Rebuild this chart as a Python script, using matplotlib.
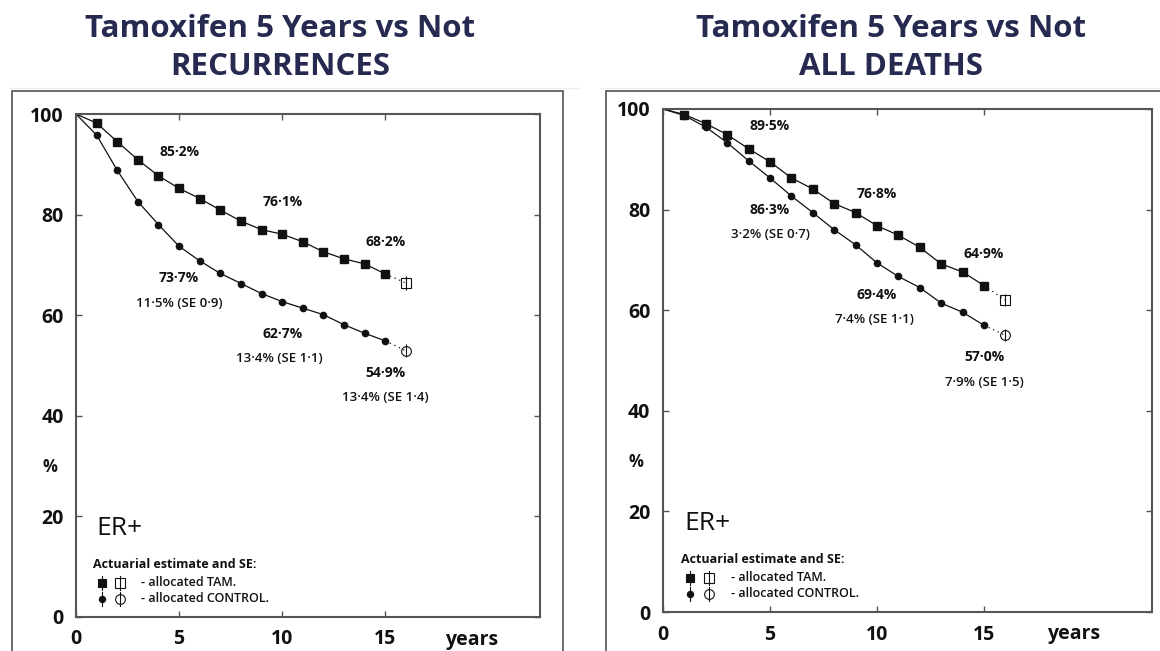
# -*- coding: utf-8 -*-
"""
ER+ 乳腺癌：他莫昔芬 5 年 vs 不用药
左：无复发比例，右：总生存比例（精算估计及标准误）
"""
import matplotlib
matplotlib.use('Agg')  # 使用非交互式后端
import matplotlib.pyplot as plt
from matplotlib.patches import Rectangle
from matplotlib.lines import Line2D

plt.rcParams['font.family'] = ['Open Sans', 'DejaVu Sans']

W, H = 1160, 651

# 年份（第 16 年为外推估计点）
years = list(range(0, 16))
est_year = 16
label_years = [5, 10, 15]
x_ticks = [0, 5, 10, 15]
y_ticks = [0, 20, 40, 60, 80, 100]

# 复发（RECURRENCES）
rec_tam = [100, 98.2, 94.5, 90.9, 87.7, 85.2, 83.2, 80.9, 78.7, 77.0, 76.1,
           74.6, 72.6, 71.2, 70.2, 68.2]
rec_ctl = [100, 95.8, 88.8, 82.6, 78.0, 73.7, 70.8, 68.3, 66.3, 64.3, 62.7,
           61.4, 60.1, 58.1, 56.4, 54.9]
rec_est = [66.4, 52.9]
rec_se = [1.3, 1.3]
rec_gain = ['11·5% (SE 0·9)', '13·4% (SE 1·1)', '13·4% (SE 1·4)']

# 全部死亡（ALL DEATHS）
dth_tam = [100, 98.9, 97.1, 94.9, 92.1, 89.5, 86.3, 84.1, 81.2, 79.4, 76.8,
           74.9, 72.5, 69.2, 67.6, 64.9]
dth_ctl = [100, 98.7, 96.4, 93.3, 89.7, 86.3, 82.7, 79.4, 76.0, 73.0, 69.4,
           66.7, 64.5, 61.4, 59.6, 57.0]
dth_est = [62.0, 55.0]
dth_se = [1.2, 1.2]
dth_gain = ['3·2% (SE 0·7)', '7·4% (SE 1·1)', '7·9% (SE 1·5)']

INK = '#111111'
SPINE = '#555555'
TITLE = '#262a50'


def px_rect(left, top, right, bottom):
    """像素坐标 -> figure 比例坐标 [x0, y0, w, h]"""
    return [left / W, (H - bottom) / H, (right - left) / W, (bottom - top) / H]


def pct(v):
    return f'{v:.1f}%'.replace('.', '·')


def draw_key(ax):
    """左下角的 ER+ 与图例说明"""
    ax.text(0.043, 0.175, 'ER+', transform=ax.transAxes, fontsize=19,
            va='center', ha='left', color=INK)
    ax.text(0.036, 0.104, 'Actuarial estimate and SE:', transform=ax.transAxes,
            fontsize=9, fontweight='bold', va='center', ha='left', color=INK)
    rows = [(0.068, 's', '- allocated TAM.', 5.5),
            (0.036, 'o', '- allocated CONTROL.', 4.5)]
    for y, marker, text, ms in rows:
        for x, face in [(0.055, INK), (0.095, 'none')]:
            ax.plot([x, x], [y - 0.014, y + 0.014], color=INK, lw=0.8,
                    transform=ax.transAxes, clip_on=False)
            ax.plot([x], [y], marker=marker, ms=ms if face == INK else 7,
                    mfc=face, mec=INK, mew=0.8,
                    transform=ax.transAxes, clip_on=False)
        ax.text(0.14, y, text, transform=ax.transAxes, fontsize=9,
                fontweight='semibold', va='center', ha='left', color=INK)


def draw_panel(rect, xmax, tam, ctl, est, se, gains, title_x, subtitle):
    ax = plt.gcf().add_axes(rect)

    # 实测曲线（第 0 年只有连线起点，不画标记）
    ax.plot(years, tam, '-', color=INK, lw=0.9)
    ax.plot(years, ctl, '-', color=INK, lw=0.9)
    ax.plot(years[1:], tam[1:], 's', color=INK, ms=5.5)
    ax.plot(years[1:], ctl[1:], 'o', color=INK, ms=4.5)

    # 外推估计点（点线连接 + 空心标记和标准误）
    ax.plot([years[-1], est_year], [tam[-1], est[0]], color=INK, lw=0.9,
            dashes=(1, 3))
    ax.plot([years[-1], est_year], [ctl[-1], est[1]], color=INK, lw=0.9,
            dashes=(1, 3))
    ax.errorbar(est_year, est[0], yerr=se[0], fmt='s', ms=7.5, mfc='none',
                mec=INK, mew=0.8, ecolor=INK, elinewidth=0.8, capsize=0)
    ax.errorbar(est_year, est[1], yerr=se[1], fmt='o', ms=7, mfc='none',
                mec=INK, mew=0.8, ecolor=INK, elinewidth=0.8, capsize=0)

    # 第 5、10、15 年的数值标注
    for i, yr in enumerate(label_years):
        up = 26 if i == 0 else 23
        ax.annotate(pct(tam[yr]), (yr, tam[yr]), xytext=(0, up),
                    textcoords='offset points', ha='center', va='center',
                    fontsize=10, fontweight='bold', color=INK)
        ax.annotate(pct(ctl[yr]), (yr, ctl[yr]), xytext=(0, -23),
                    textcoords='offset points', ha='center', va='center',
                    fontsize=10, fontweight='bold', color=INK)
        ax.annotate(gains[i], (yr, ctl[yr]), xytext=(-2 if i == 1 else 0, -41),
                    textcoords='offset points', ha='center', va='center',
                    fontsize=9.5, fontweight='semibold', color=INK)

    ax.set_xlim(0, xmax)
    ax.set_ylim(0, 100)
    ax.set_xticks(x_ticks)
    ax.set_yticks(y_ticks)
    ax.tick_params(axis='both', direction='in', length=4, width=1,
                   color=SPINE, top=True, right=True, labelsize=14)
    ax.tick_params(axis='x', pad=9)
    ax.tick_params(axis='y', pad=9)
    for lab in ax.get_xticklabels() + ax.get_yticklabels():
        lab.set_fontweight('bold')
        lab.set_color(INK)
    for sp in ax.spines.values():
        sp.set_color(SPINE)
        sp.set_linewidth(1.5)

    ax.annotate('years', (19.2, 0), xycoords=('data', 'axes fraction'),
                xytext=(0, -9), textcoords='offset points', ha='center',
                va='top', fontsize=14, fontweight='bold', color=INK)
    ax.text(-0.056, 0.298, '%', transform=ax.transAxes, ha='center',
            va='center', fontsize=12, fontweight='bold', color=INK)

    draw_key(ax)

    # 标题
    fig = plt.gcf()
    fig.text(title_x / W, 1 - 29 / H, 'Tamoxifen 5 Years vs Not', ha='center',
             va='center', fontsize=22.5, fontweight='bold', color=TITLE)
    fig.text(title_x / W, 1 - 67 / H, subtitle, ha='center', va='center',
             fontsize=22.5, fontweight='bold', color=TITLE)
    return ax


fig = plt.figure(figsize=(W / 100, H / 100), dpi=100)
fig.patch.set_facecolor('white')

# 外框和标题下的浅色分隔线
for left, right in [(12, 563), (606, 1220)]:
    x0, y0, w, h = px_rect(left, 91, right, 720)
    fig.add_artist(Rectangle((x0, y0), w, h, transform=fig.transFigure,
                             fill=False, ec='#444444', lw=1.1))
for a, b in [(10, 580), (600, 1160)]:
    fig.add_artist(Line2D([a / W, b / W], [1 - 88 / H] * 2, color='#eeeeee',
                          lw=1, transform=fig.transFigure))

draw_panel(px_rect(76, 114, 540, 617), 22.5, rec_tam, rec_ctl, rec_est,
           rec_se, rec_gain, 280, 'RECURRENCES')
draw_panel(px_rect(663, 109, 1152, 612), 22.85, dth_tam, dth_ctl, dth_est,
           dth_se, dth_gain, 891, 'ALL DEATHS')

plt.savefig('out.png', dpi=100)
plt.close()
